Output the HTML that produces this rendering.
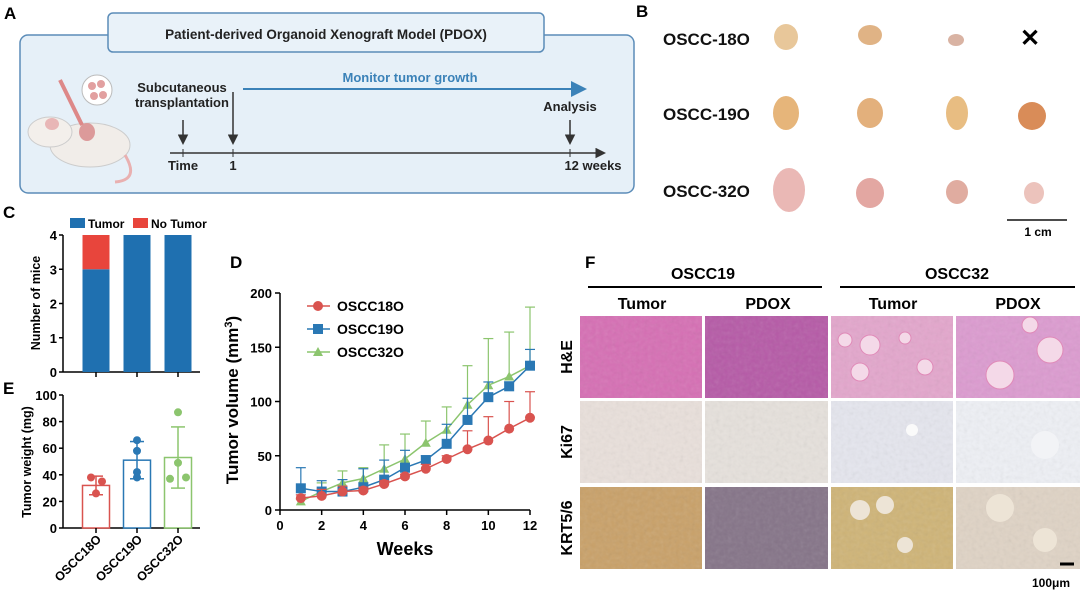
<!DOCTYPE html>
<html><head><meta charset="utf-8">
<style>
body{margin:0;width:1080px;height:590px;background:#fff;overflow:hidden;font-family:"Liberation Sans",Arial,sans-serif}
svg{position:absolute;left:0;top:0}
text{font-family:"Liberation Sans",Arial,sans-serif}
</style></head><body>
<svg id="fig" width="1080" height="590" viewBox="0 0 1080 590">
<defs>
<filter id="noise" x="0" y="0" width="100%" height="100%"><feTurbulence type="fractalNoise" baseFrequency="0.25" numOctaves="2" seed="3"/><feColorMatrix type="saturate" values="0"/><feComponentTransfer><feFuncA type="table" tableValues="0 0.45"/></feComponentTransfer><feComposite in2="SourceGraphic" operator="in"/></filter>
<marker id="arrB" markerWidth="8" markerHeight="8" refX="6" refY="4" orient="auto"><path d="M0,0 L8,4 L0,8 z" fill="#3b82b8"/></marker>
<marker id="arrK" markerWidth="7" markerHeight="7" refX="5" refY="3.5" orient="auto"><path d="M0,0 L7,3.5 L0,7 z" fill="#333"/></marker>
</defs>

<g font-weight="bold" font-size="17" fill="#000">
<text x="4" y="19">A</text>
<text x="636" y="17">B</text>
<text x="3" y="218">C</text>
<text x="230" y="268">D</text>
<text x="3" y="394">E</text>
<text x="585" y="268">F</text>
</g>

<g>
<rect x="20" y="35" width="614" height="158" rx="8" fill="#e6f0f8" stroke="#5b8cb8" stroke-width="1.5"/>
<rect x="108" y="13" width="436" height="39" rx="5" fill="#e9f2f9" stroke="#5b8cb8" stroke-width="1.5"/>
<text x="326" y="39" font-size="13.5" font-weight="bold" text-anchor="middle" fill="#222">Patient-derived Organoid Xenograft Model (PDOX)</text>
<g>
<ellipse cx="90" cy="145" rx="40" ry="22" fill="#f1ede9" stroke="#ccc"/>
<ellipse cx="50" cy="132" rx="22" ry="15" fill="#f3efeb" stroke="#ccc"/>
<ellipse cx="52" cy="124" rx="7" ry="6" fill="#e8b6b6"/>
<ellipse cx="87" cy="132" rx="8" ry="9" fill="#dc9a9a"/>
<path d="M125,155 Q140,180 115,182" stroke="#e9b0b0" stroke-width="3" fill="none"/>
<line x1="60" y1="80" x2="82" y2="125" stroke="#d88" stroke-width="4"/>
<circle cx="97" cy="90" r="15" fill="#fff" stroke="#bbb"/>
<circle cx="92" cy="86" r="4" fill="#e2a0a0"/><circle cx="101" cy="84" r="4" fill="#e2a0a0"/><circle cx="94" cy="96" r="4" fill="#e2a0a0"/><circle cx="103" cy="95" r="4" fill="#e2a0a0"/>
</g>
<text x="182" y="92" font-size="13" font-weight="bold" text-anchor="middle" fill="#222">Subcutaneous</text>
<text x="182" y="107" font-size="13" font-weight="bold" text-anchor="middle" fill="#222">transplantation</text>
<text x="410" y="82" font-size="13" font-weight="bold" text-anchor="middle" fill="#3b82b8">Monitor tumor growth</text>
<line x1="243" y1="89" x2="583" y2="89" stroke="#3b82b8" stroke-width="2" marker-end="url(#arrB)"/>
<text x="570" y="111" font-size="13" font-weight="bold" text-anchor="middle" fill="#222">Analysis</text>
<line x1="170" y1="153" x2="603" y2="153" stroke="#333" stroke-width="1.5" marker-end="url(#arrK)"/>
<line x1="183" y1="120" x2="183" y2="142" stroke="#333" stroke-width="1.5" marker-end="url(#arrK)"/>
<line x1="233" y1="92" x2="233" y2="142" stroke="#333" stroke-width="1.5" marker-end="url(#arrK)"/>
<line x1="570" y1="120" x2="570" y2="142" stroke="#333" stroke-width="1.5" marker-end="url(#arrK)"/>
<line x1="183" y1="149" x2="183" y2="157" stroke="#333"/><line x1="233" y1="149" x2="233" y2="157" stroke="#333"/><line x1="570" y1="149" x2="570" y2="157" stroke="#333"/>
<g font-size="13" font-weight="bold" fill="#222">
<text x="183" y="170" text-anchor="middle">Time</text>
<text x="233" y="170" text-anchor="middle">1</text>
<text x="593" y="170" text-anchor="middle">12 weeks</text>
</g>
</g>

<g>
<g font-size="17" font-weight="bold" fill="#111">
<text x="663" y="45">OSCC-18O</text>
<text x="663" y="120">OSCC-19O</text>
<text x="663" y="197">OSCC-32O</text>
</g>
<ellipse cx="786" cy="37" rx="12" ry="13" fill="#e8c79a"/>
<ellipse cx="870" cy="35" rx="12" ry="10" fill="#e0b385"/>
<ellipse cx="956" cy="40" rx="8" ry="6" fill="#d9b3a3"/>
<ellipse cx="786" cy="113" rx="13" ry="17" fill="#e6b57a"/>
<ellipse cx="870" cy="113" rx="13" ry="15" fill="#e3b07c"/>
<ellipse cx="957" cy="113" rx="11" ry="17" fill="#e8bd82"/>
<ellipse cx="1032" cy="116" rx="14" ry="14" fill="#d98c58"/>
<ellipse cx="789" cy="190" rx="16" ry="22" fill="#eab8b5"/>
<ellipse cx="870" cy="193" rx="14" ry="15" fill="#e3a7a2"/>
<ellipse cx="957" cy="192" rx="11" ry="12" fill="#e0aca0"/>
<ellipse cx="1034" cy="193" rx="10" ry="11" fill="#ecc3bc"/>
<text x="1030" y="46" font-size="24" font-weight="bold" text-anchor="middle" fill="#000">✕</text>
<line x1="1007" y1="220" x2="1067" y2="220" stroke="#111" stroke-width="1.5"/>
<text x="1038" y="236" font-size="12" font-weight="bold" text-anchor="middle">1 cm</text>
</g>

<g id="panelC"></g>
<g id="panelE"></g>
<g id="panelD"></g>

<g>
<text x="703" y="279" font-size="16" font-weight="bold" text-anchor="middle">OSCC19</text>
<text x="957" y="279" font-size="16" font-weight="bold" text-anchor="middle">OSCC32</text>
<line x1="588" y1="287" x2="822" y2="287" stroke="#000" stroke-width="2"/>
<line x1="840" y1="287" x2="1075" y2="287" stroke="#000" stroke-width="2"/>
<g font-size="16" font-weight="bold" text-anchor="middle">
<text x="642" y="309">Tumor</text><text x="768" y="309">PDOX</text>
<text x="893" y="309">Tumor</text><text x="1018" y="309">PDOX</text>
</g>
<g font-size="16" font-weight="bold" text-anchor="middle">
<text transform="translate(572,357) rotate(-90)">H&amp;E</text>
<text transform="translate(572,442) rotate(-90)">Ki67</text>
<text transform="translate(572,528) rotate(-90)">KRT5/6</text>
</g>
<g id="tiles"></g>
<line x1="1060" y1="564" x2="1074" y2="564" stroke="#000" stroke-width="3"/>
<text x="1051" y="587" font-size="12" font-weight="bold" text-anchor="middle">100μm</text>
</g>
</svg>
<script>
const NS="http://www.w3.org/2000/svg";
function el(p,t,a,txt){const e=document.createElementNS(NS,t);for(const k in a)e.setAttribute(k,a[k]);if(txt!==undefined)e.textContent=txt;p.appendChild(e);return e;}

// ---------- Panel C data ----------
const cCategories=["OSCC18O","OSCC19O","OSCC32O"];
const cTumor=[3,4,4];
const cNoTumor=[1,0,0];
const cTicks=[0,1,2,3,4];
// ---------- Panel E data ----------
const eCategories=["OSCC18O","OSCC19O","OSCC32O"];
const eMeans=[32,51,53];
const eSD=[7,14,23];
const ePoints18=[38,35,26];
const ePoints19=[66,58,42,38];
const ePoints32=[87,49,37,38];
const eTicks=[0,20,40,60,80,100];
// ---------- Panel D data ----------
const dWeeks=[1,2,3,4,5,6,7,8,9,10,11,12];
const d18=[11,13,17,18,24,31,38,47,56,64,75,85];
const d18err=[3,6,5,3,3,2,4,3,17,22,25,24];
const d19=[20,17,17,21,28,39,46,61,83,104,114,133];
const d19err=[19,10,11,17,18,16,4,18,20,14,4,15];
const d32=[8,17,25,29,38,47,62,74,97,115,123,133];
const d32err=[2,8,11,10,22,23,20,21,36,43,41,54];
const dXTicks=[0,2,4,6,8,10,12];
const dYTicks=[0,50,100,150,200];

const blue="#1f70b0",red="#e8453c",green="#8cc56e",red2="#d9534f";

// Panel C
(function(){
 const g=document.getElementById('panelC');
 const x0=63,y0=372,y1=235,ymax=4;
 const y=v=>y0-(v/ymax)*(y0-y1);
 const bx=i=>96+i*41;
 el(g,'line',{x1:x0,y1:y1,x2:x0,y2:y0,stroke:'#000','stroke-width':1.5});
 el(g,'line',{x1:x0,y1:y0,x2:200,y2:y0,stroke:'#000','stroke-width':1.5});
 cTicks.forEach(t=>{el(g,'line',{x1:x0-4,y1:y(t),x2:x0,y2:y(t),stroke:'#000','stroke-width':1.5});
  el(g,'text',{x:x0-6,y:y(t)+5,'font-size':13,'font-weight':'bold','text-anchor':'end'},t);});
 cCategories.forEach((c,i)=>{
  const r1=el(g,'rect',{x:bx(i)-13.5,y:y(cTumor[i]),width:27,height:y0-y(cTumor[i]),fill:blue});
  
  
  if(cNoTumor[i]>0){const r2=el(g,'rect',{x:bx(i)-13.5,y:y(cTumor[i]+cNoTumor[i]),width:27,height:y(cTumor[i])-y(cTumor[i]+cNoTumor[i]),fill:red});
   
   }
  el(g,'line',{x1:bx(i),y1:y0,x2:bx(i),y2:y0+5,stroke:'#000','stroke-width':1.5});
 });
 el(g,'text',{transform:'translate(40,303) rotate(-90)','font-size':12.5,'font-weight':'bold','text-anchor':'middle'},'Number of mice');
 el(g,'rect',{x:70,y:218,width:15,height:10,fill:blue});
 el(g,'text',{x:88,y:228,'font-size':12,'font-weight':'bold'},'Tumor');
 el(g,'rect',{x:133,y:218,width:15,height:10,fill:red});
 el(g,'text',{x:151,y:228,'font-size':12,'font-weight':'bold'},'No Tumor');
})();

// Panel E
(function(){
 const g=document.getElementById('panelE');
 const x0=63,y0=528,y1=395,ymax=100;
 const y=v=>y0-(v/ymax)*(y0-y1);
 const bx=i=>96+i*41;
 const cols=[red2,"#2a78b4",green];
 const pts=[ePoints18,ePoints19,ePoints32];
 el(g,'line',{x1:x0,y1:y1,x2:x0,y2:y0,stroke:'#000','stroke-width':1.5});
 el(g,'line',{x1:x0,y1:y0,x2:200,y2:y0,stroke:'#000','stroke-width':1.5});
 eTicks.forEach(t=>{el(g,'line',{x1:x0-4,y1:y(t),x2:x0,y2:y(t),stroke:'#000','stroke-width':1.5});
  el(g,'text',{x:x0-6,y:y(t)+5,'font-size':13,'font-weight':'bold','text-anchor':'end'},t);});
 const dxs=[[-5,6,0],[0,0,0,0],[0,0,-8,8]];
 eCategories.forEach((c,i)=>{
  const b=el(g,'rect',{x:bx(i)-13.5,y:y(eMeans[i]),width:27,height:y0-y(eMeans[i]),fill:'#fff',stroke:cols[i],'stroke-width':1.5});
  
  
  const hi=y(eMeans[i]+eSD[i]),lo=y(eMeans[i]-eSD[i]);
  el(g,'line',{x1:bx(i),y1:hi,x2:bx(i),y2:lo,stroke:cols[i],'stroke-width':1.5});
  el(g,'line',{x1:bx(i)-7,y1:hi,x2:bx(i)+7,y2:hi,stroke:cols[i],'stroke-width':1.5});
  el(g,'line',{x1:bx(i)-7,y1:lo,x2:bx(i)+7,y2:lo,stroke:cols[i],'stroke-width':1.5});
  pts[i].forEach((v,j)=>{const dx=dxs[i][j]||0;
   const p=el(g,'circle',{cx:bx(i)+dx,cy:y(v),r:4,fill:cols[i]});
   
   });
  el(g,'line',{x1:bx(i),y1:y0,x2:bx(i),y2:y0+5,stroke:'#000','stroke-width':1.5});
  el(g,'text',{transform:`translate(${bx(i)+6},${y0+12}) rotate(-45)`,'font-size':12.5,'font-weight':'bold','text-anchor':'end'},c);
 });
 el(g,'text',{transform:'translate(31,462) rotate(-90)','font-size':12.5,'font-weight':'bold','text-anchor':'middle'},'Tumor weight (mg)');
})();

// Panel D
(function(){
 const g=document.getElementById('panelD');
 const X0=280,X1=530,Y0=510,Y1=293;
 const x=v=>X0+v/12*(X1-X0);
 const y=v=>Y0-v/200*(Y0-Y1);
 el(g,'line',{x1:X0,y1:Y1,x2:X0,y2:Y0,stroke:'#000','stroke-width':1.5});
 el(g,'line',{x1:X0,y1:Y0,x2:X1,y2:Y0,stroke:'#000','stroke-width':1.5});
 dYTicks.forEach(t=>{el(g,'line',{x1:X0-5,y1:y(t),x2:X0,y2:y(t),stroke:'#000','stroke-width':1.5});
  el(g,'text',{x:X0-8,y:y(t)+5,'font-size':13,'font-weight':'bold','text-anchor':'end'},t);});
 dXTicks.forEach(t=>{el(g,'line',{x1:x(t),y1:Y0,x2:x(t),y2:Y0+5,stroke:'#000','stroke-width':1.5});
  el(g,'text',{x:x(t),y:Y0+20,'font-size':13,'font-weight':'bold','text-anchor':'middle'},t);});
 el(g,'text',{x:405,y:555,'font-size':18,'font-weight':'bold','text-anchor':'middle'},'Weeks');
 const yl=el(g,'text',{transform:'translate(238,400) rotate(-90)','font-size':17,'font-weight':'bold','text-anchor':'middle'},'Tumor volume (mm');
 el(yl,'tspan',{'font-size':11,dy:-6},'3');el(yl,'tspan',{dy:6},')');
 const series=[[d32,d32err,green,'OSCC32O','tri'],[d19,d19err,"#2a78b4",'OSCC19O','sq'],[d18,d18err,red2,'OSCC18O','ci']];
 series.forEach(([vals,err,col,name,shape])=>{
  dWeeks.forEach((w,i)=>{
   el(g,'line',{x1:x(w),y1:y(vals[i]),x2:x(w),y2:y(vals[i]+err[i]),stroke:col,'stroke-width':1.2});
   el(g,'line',{x1:x(w)-5,y1:y(vals[i]+err[i]),x2:x(w)+5,y2:y(vals[i]+err[i]),stroke:col,'stroke-width':1.2});
  });
  const pl=el(g,'polyline',{points:dWeeks.map((w,i)=>x(w)+','+y(vals[i])).join(' '),fill:'none',stroke:col,'stroke-width':1.5});
  
  
  dWeeks.forEach((w,i)=>{
   const cx=x(w),cy=y(vals[i]);let m;
   if(shape==='ci')m=el(g,'circle',{cx:cx,cy:cy,r:5,fill:col});
   else if(shape==='sq')m=el(g,'rect',{x:cx-5,y:cy-5,width:10,height:10,fill:col});
   else m=el(g,'polygon',{points:`${cx},${cy-5} ${cx-5},${cy+4} ${cx+5},${cy+4}`,fill:col});
   
   
  });
 });
 const leg=[['OSCC18O',red2,'ci'],['OSCC19O',"#2a78b4",'sq'],['OSCC32O',green,'tri']];
 leg.forEach(([n,c,s],i)=>{const ly=306+i*23;
  el(g,'line',{x1:307,y1:ly,x2:330,y2:ly,stroke:c,'stroke-width':1.5});
  if(s==='ci')el(g,'circle',{cx:318,cy:ly,r:5,fill:c});
  else if(s==='sq')el(g,'rect',{x:313,y:ly-5,width:10,height:10,fill:c});
  else el(g,'polygon',{points:`318,${ly-5} 313,${ly+4} 323,${ly+4}`,fill:c});
  const t=el(g,'text',{x:337,y:ly+5,'font-size':14,'font-weight':'bold'},n);
  
  
 });
})();

// Panel F tiles
(function(){
 const g=document.getElementById('tiles');
 const xs=[580,705,831,956],ws=[122,123,122,124],ys=[316,401,487],h=82;
 const fills=[["#d66fb4","#b65aa7","#e3a6cc","#dc9bd0"],["#e9e0db","#e6e1dc","#e5e6ee","#eef0f5"],["#c9a169","#857488","#cfb477","#dfd3c5"]];
 ys.forEach((yy,r)=>xs.forEach((xx,c)=>{
  const t=el(g,'rect',{x:xx,y:yy,width:ws[c],height:h,fill:fills[r][c]});
  
  
  el(g,'rect',{x:xx,y:yy,width:ws[c],height:h,fill:'#000',filter:'url(#noise)',opacity:0.35});
 }));
 [[870,345,10],[845,340,7],[905,338,6],[925,367,8],[860,372,9],[1000,375,14],[1050,350,13],[1030,325,8]].forEach(([cx,cy,r])=>el(g,'circle',{cx:cx,cy:cy,r:r,fill:'#f4d9e8',stroke:'#e08ab8'}));
 el(g,'circle',{cx:912,cy:430,r:6,fill:'#fafafa'});
 el(g,'circle',{cx:1045,cy:445,r:14,fill:'#f2f3f6'});
 [[860,510,10],[885,505,9],[905,545,8],[1045,540,12],[1000,508,14]].forEach(([cx,cy,r])=>el(g,'circle',{cx:cx,cy:cy,r:r,fill:'#ede4d6'}));
})();
</script>
</body></html>
